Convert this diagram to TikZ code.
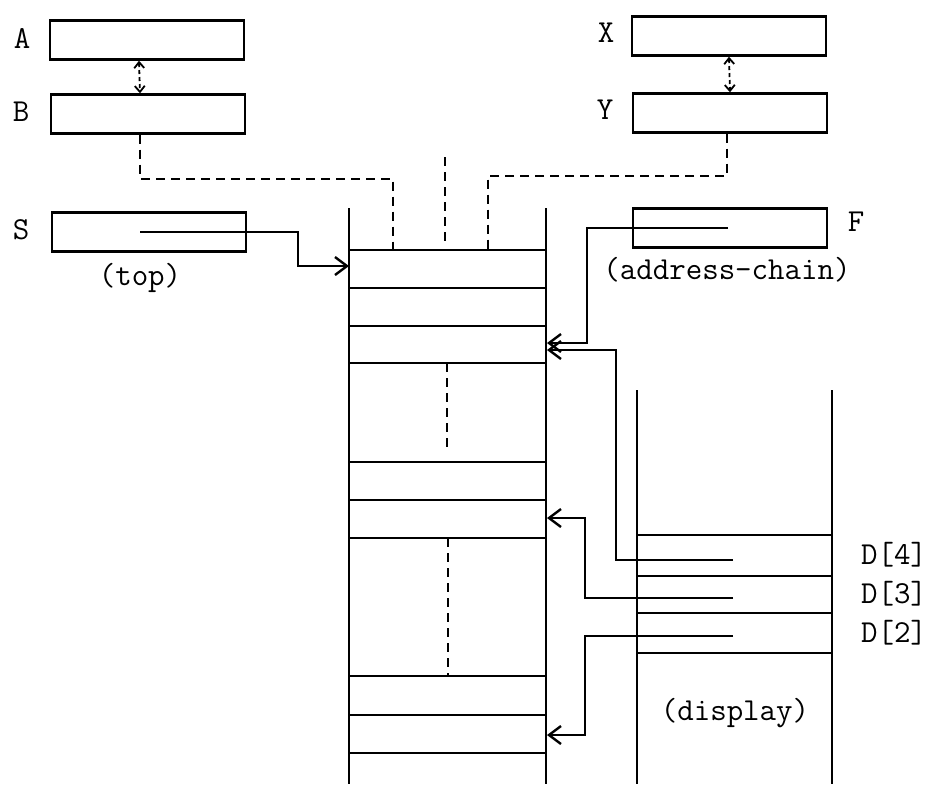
\documentclass[tikz,border=0pt]{standalone}
\usetikzlibrary{arrows.meta}
\begin{document}
\begin{tikzpicture}[x=0.5pt, y=-0.5pt, font=\ttfamily\fontsize{16}{18}\selectfont]
    \tikzset{
        reg/.style={rectangle, draw=black, line width=1.2pt,
        minimum width=97pt, minimum height=19.5pt, inner sep=0pt},
        tag/.style={inner sep=0pt},
        wall/.style={line width=1.2pt},
        ptr/.style={line width=1.2pt, -{Straight Barb[length=6pt,width=9pt]}},
        dashline/.style={line width=1.2pt, dash pattern=on 4.5pt off 3pt},
        swap/.style={line width=0.9pt, dash pattern=on 2pt off 1.5pt,
        {Straight Barb[length=3pt,width=5pt]}-{Straight Barb[length=3pt,width=5pt]}}
    }
    \useasboundingbox (0,0) rectangle (928,784);

    % registers
    \node (regA) [reg] at (147,40) {};
    \node (regB) [reg] at (148,114) {};
    \node (regS) [reg] at (149,232) {};
    \node (regX) [reg] at (729,36) {};
    \node (regY) [reg] at (730,113) {};
    \node (regF) [reg] at (730,228) {};

    \node (labA) [tag] at (22,38) {A};
    \node (labB) [tag] at (21,112) {B};
    \node (labS) [tag] at (21,230) {S};
    \node (labX) [tag] at (606,33) {X};
    \node (labY) [tag] at (605,110) {Y};
    \node (labF) [tag] at (856,222) {F};
    \node (top) [tag] at (140,278) {(top)};
    \node (chain) [tag] at (727,270) {(address-chain)};

    % stack
    \draw [wall] (349,208) -- (349,784);
    \draw [wall] (546,208) -- (546,784);
    \foreach \y in {250,288,326,363,462,500,538,676,715,753}
        \draw [wall] (349,\y) -- (546,\y);
    \draw [dashline] (447,363) -- (447,453);
    \draw [dashline] (448,538) -- (448,676);
    \draw [dashline] (445,157) -- (445,242);

    % display
    \draw [wall] (637,390) -- (637,784);
    \draw [wall] (832,390) -- (832,784);
    \foreach \y in {535,576,613,653}
        \draw [wall] (637,\y) -- (832,\y);
    \node (disp) [tag] at (735,713) {(display)};
    \node (d4) [tag] at (894,555) {D[4]};
    \node (d3) [tag] at (894,594) {D[3]};
    \node (d2) [tag] at (894,633) {D[2]};

    % pointer ends
    \coordinate (sIn) at (140,232);
    \coordinate (fIn) at (728,228);
    \coordinate (d4In) at (733,560);
    \coordinate (d3In) at (733,598);
    \coordinate (d2In) at (733,636);
    \coordinate (topIn) at (349,266);
    \coordinate (fOut) at (547,343);
    \coordinate (d4Out) at (547,350);
    \coordinate (d3Out) at (547,518);
    \coordinate (d2Out) at (547,735);
    \coordinate (t1) at (393,250);
    \coordinate (t2) at (488,250);

    \draw [swap] ([xshift=-4pt]regA.south) -- ([xshift=-4pt]regB.north);
    \draw [swap] (regX.south) -- (regY.north);
    \draw [dashline] ([xshift=-4pt]regB.south) -- ++(0,44) -| (t1);
    \draw [dashline] ([xshift=-1.5pt]regY.south) -- ++(0,42) -| (t2);

    \draw [ptr] (sIn) -- ++(158,0) |- (topIn);
    \draw [ptr] (fIn) -- ++(-141,0) |- (fOut);
    \draw [ptr] (d4In) -- ++(-117,0) |- (d4Out);
    \draw [ptr] (d3In) -- ++(-148,0) |- (d3Out);
    \draw [ptr] (d2In) -- ++(-148,0) |- (d2Out);
\end{tikzpicture}
\end{document}
